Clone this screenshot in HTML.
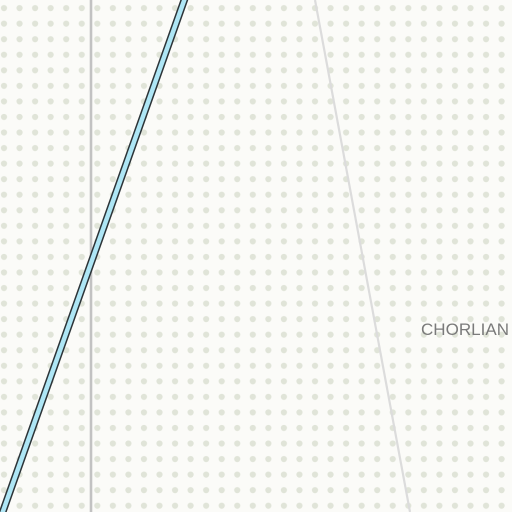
<!DOCTYPE html>
<html><head><meta charset="utf-8"><style>
html,body{margin:0;padding:0;background:#fff;}
svg{display:block;}
</style></head><body>
<svg width="512" height="512" viewBox="0 0 512 512">
<defs>
<pattern id="dots" patternUnits="userSpaceOnUse" width="15.55" height="15.55" x="-3.8" y="0.3">
<circle cx="7.8" cy="7.8" r="3.1" fill="#e0e4d8"/>
</pattern>
</defs>
<rect width="512" height="512" fill="#fbfbf8"/>
<rect width="512" height="512" fill="url(#dots)"/>
<line x1="91" y1="0" x2="91" y2="512" stroke="#c2c2c2" stroke-width="2.6"/>
<line x1="315" y1="0" x2="410" y2="512" stroke="#dcdcdc" stroke-width="2.2"/>
<g>
<line x1="185" y1="-2" x2="2" y2="514" stroke="#2c3438" stroke-width="7.5"/>
<line x1="185" y1="-2" x2="2" y2="514" stroke="#aee6f5" stroke-width="4.5"/>
</g>
<text x="421" y="335" font-family="Liberation Sans, sans-serif" font-size="17" textLength="88" fill="#7a7a7a">CHORLIAN</text>
</svg>
</body></html>
